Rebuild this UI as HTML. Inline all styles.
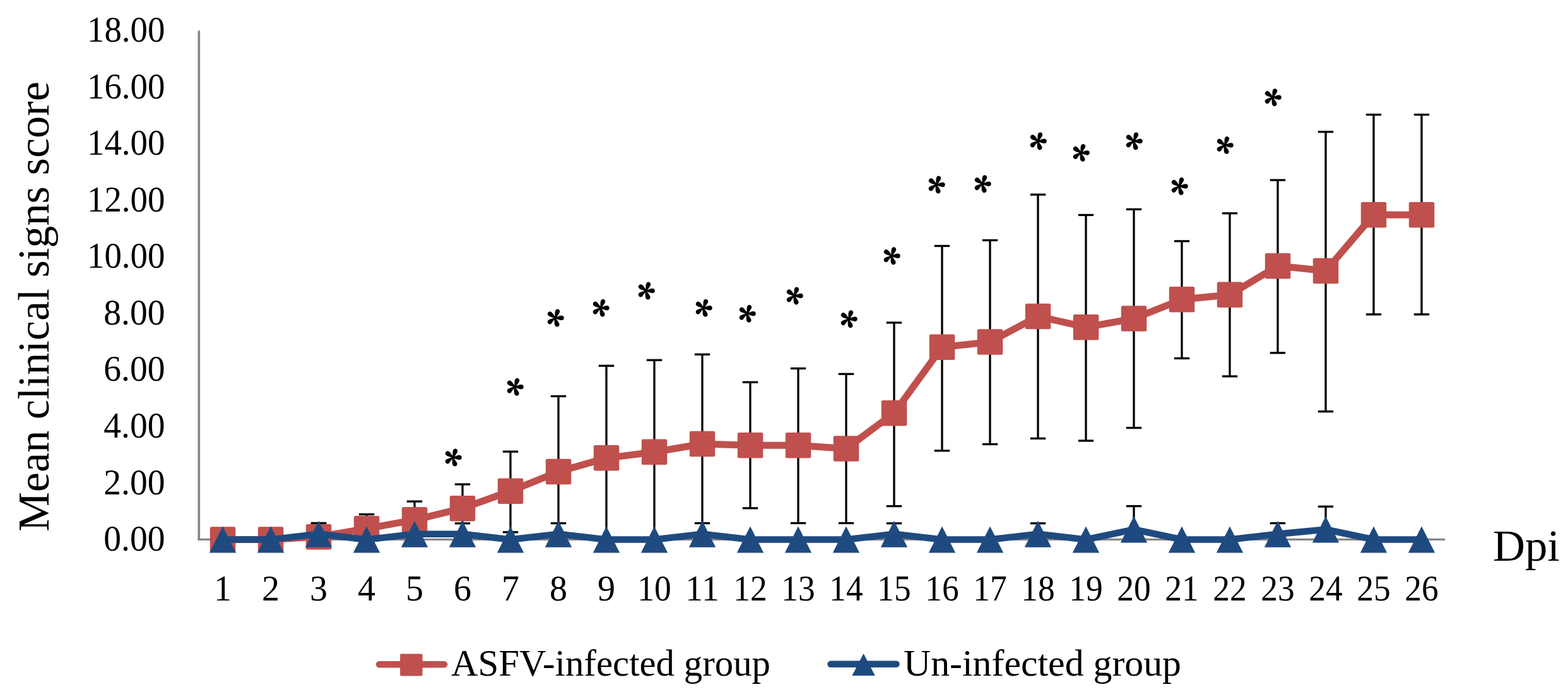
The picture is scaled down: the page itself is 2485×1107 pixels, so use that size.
<!DOCTYPE html><html><head><meta charset="utf-8"><title>Mean clinical signs score</title><style>html,body{margin:0;padding:0;background:#fff;}svg{display:block;}</style></head><body>
<svg width="2485" height="1107" viewBox="0 0 2485 1107">
<rect width="2485" height="1107" fill="#fff"/>
<g font-family="Liberation Serif, serif" font-size="56.5" fill="#000" text-anchor="end">
<text x="261.4" y="872.0" textLength="97.1" lengthAdjust="spacingAndGlyphs">0.00</text>
<text x="261.4" y="782.5" textLength="97.1" lengthAdjust="spacingAndGlyphs">2.00</text>
<text x="261.4" y="692.9" textLength="97.1" lengthAdjust="spacingAndGlyphs">4.00</text>
<text x="261.4" y="603.4" textLength="97.1" lengthAdjust="spacingAndGlyphs">6.00</text>
<text x="261.4" y="513.8" textLength="97.1" lengthAdjust="spacingAndGlyphs">8.00</text>
<text x="261.4" y="424.3" textLength="123.4" lengthAdjust="spacingAndGlyphs">10.00</text>
<text x="261.4" y="334.7" textLength="123.4" lengthAdjust="spacingAndGlyphs">12.00</text>
<text x="261.4" y="245.2" textLength="123.4" lengthAdjust="spacingAndGlyphs">14.00</text>
<text x="261.4" y="155.6" textLength="123.4" lengthAdjust="spacingAndGlyphs">16.00</text>
<text x="261.4" y="66.1" textLength="123.4" lengthAdjust="spacingAndGlyphs">18.00</text>
</g>
<line x1="315.3" y1="48.5" x2="315.3" y2="854.4" stroke="#868686" stroke-width="3.6"/>
<line x1="313.3" y1="854.4" x2="2290.2" y2="854.4" stroke="#868686" stroke-width="3.2"/>
<g font-family="Liberation Serif, serif" font-size="56" fill="#000" text-anchor="middle">
<text x="353.0" y="951">1</text>
<text x="429.0" y="951">2</text>
<text x="505.0" y="951">3</text>
<text x="581.0" y="951">4</text>
<text x="657.0" y="951">5</text>
<text x="733.0" y="951">6</text>
<text x="809.0" y="951">7</text>
<text x="885.0" y="951">8</text>
<text x="961.0" y="951">9</text>
<text x="1037.0" y="951" textLength="53.5" lengthAdjust="spacingAndGlyphs">10</text>
<text x="1113.0" y="951" textLength="53.5" lengthAdjust="spacingAndGlyphs">11</text>
<text x="1189.0" y="951" textLength="53.5" lengthAdjust="spacingAndGlyphs">12</text>
<text x="1265.0" y="951" textLength="53.5" lengthAdjust="spacingAndGlyphs">13</text>
<text x="1341.0" y="951" textLength="53.5" lengthAdjust="spacingAndGlyphs">14</text>
<text x="1417.0" y="951" textLength="53.5" lengthAdjust="spacingAndGlyphs">15</text>
<text x="1493.0" y="951" textLength="53.5" lengthAdjust="spacingAndGlyphs">16</text>
<text x="1569.0" y="951" textLength="53.5" lengthAdjust="spacingAndGlyphs">17</text>
<text x="1645.0" y="951" textLength="53.5" lengthAdjust="spacingAndGlyphs">18</text>
<text x="1721.0" y="951" textLength="53.5" lengthAdjust="spacingAndGlyphs">19</text>
<text x="1797.0" y="951" textLength="53.5" lengthAdjust="spacingAndGlyphs">20</text>
<text x="1873.0" y="951" textLength="53.5" lengthAdjust="spacingAndGlyphs">21</text>
<text x="1949.0" y="951" textLength="53.5" lengthAdjust="spacingAndGlyphs">22</text>
<text x="2025.0" y="951" textLength="53.5" lengthAdjust="spacingAndGlyphs">23</text>
<text x="2101.0" y="951" textLength="53.5" lengthAdjust="spacingAndGlyphs">24</text>
<text x="2177.0" y="951" textLength="53.5" lengthAdjust="spacingAndGlyphs">25</text>
<text x="2253.0" y="951" textLength="53.5" lengthAdjust="spacingAndGlyphs">26</text>
</g>
<g stroke="#000" stroke-width="3.3" fill="none">
<line x1="505.0" y1="828.5" x2="505.0" y2="850.1"/><line x1="492.8" y1="828.5" x2="517.2" y2="828.5"/>
<line x1="581.0" y1="814.6" x2="581.0" y2="837.2"/><line x1="568.8" y1="814.6" x2="593.2" y2="814.6"/>
<line x1="657.0" y1="794.1" x2="657.0" y2="823.3"/><line x1="644.8" y1="794.1" x2="669.2" y2="794.1"/>
<line x1="733.0" y1="767.0" x2="733.0" y2="845.0"/><line x1="720.8" y1="767.0" x2="745.2" y2="767.0"/>
<line x1="809.0" y1="715.2" x2="809.0" y2="842.8"/><line x1="796.8" y1="715.2" x2="821.2" y2="715.2"/><line x1="796.8" y1="842.8" x2="821.2" y2="842.8"/>
<line x1="885.0" y1="627.5" x2="885.0" y2="850.0"/><line x1="872.8" y1="627.5" x2="897.2" y2="627.5"/>
<line x1="961.0" y1="579.3" x2="961.0" y2="850.0"/><line x1="948.8" y1="579.3" x2="973.2" y2="579.3"/>
<line x1="1037.0" y1="570.3" x2="1037.0" y2="850.0"/><line x1="1024.8" y1="570.3" x2="1049.2" y2="570.3"/>
<line x1="1113.0" y1="561.3" x2="1113.0" y2="850.0"/><line x1="1100.8" y1="561.3" x2="1125.2" y2="561.3"/>
<line x1="1189.0" y1="605.3" x2="1189.0" y2="804.8"/><line x1="1176.8" y1="605.3" x2="1201.2" y2="605.3"/><line x1="1176.8" y1="804.8" x2="1201.2" y2="804.8"/>
<line x1="1265.0" y1="583.5" x2="1265.0" y2="828.5"/><line x1="1252.8" y1="583.5" x2="1277.2" y2="583.5"/><line x1="1252.8" y1="828.5" x2="1277.2" y2="828.5"/>
<line x1="1341.0" y1="592.3" x2="1341.0" y2="828.5"/><line x1="1328.8" y1="592.3" x2="1353.2" y2="592.3"/><line x1="1328.8" y1="828.5" x2="1353.2" y2="828.5"/>
<line x1="1417.0" y1="511.0" x2="1417.0" y2="801.6"/><line x1="1404.8" y1="511.0" x2="1429.2" y2="511.0"/><line x1="1404.8" y1="801.6" x2="1429.2" y2="801.6"/>
<line x1="1493.0" y1="389.5" x2="1493.0" y2="713.8"/><line x1="1480.8" y1="389.5" x2="1505.2" y2="389.5"/><line x1="1480.8" y1="713.8" x2="1505.2" y2="713.8"/>
<line x1="1569.0" y1="380.5" x2="1569.0" y2="703.5"/><line x1="1556.8" y1="380.5" x2="1581.2" y2="380.5"/><line x1="1556.8" y1="703.5" x2="1581.2" y2="703.5"/>
<line x1="1645.0" y1="308.2" x2="1645.0" y2="694.4"/><line x1="1632.8" y1="308.2" x2="1657.2" y2="308.2"/><line x1="1632.8" y1="694.4" x2="1657.2" y2="694.4"/>
<line x1="1721.0" y1="340.5" x2="1721.0" y2="698.0"/><line x1="1708.8" y1="340.5" x2="1733.2" y2="340.5"/><line x1="1708.8" y1="698.0" x2="1733.2" y2="698.0"/>
<line x1="1797.0" y1="331.5" x2="1797.0" y2="677.6"/><line x1="1784.8" y1="331.5" x2="1809.2" y2="331.5"/><line x1="1784.8" y1="677.6" x2="1809.2" y2="677.6"/>
<line x1="1873.0" y1="381.9" x2="1873.0" y2="567.5"/><line x1="1860.8" y1="381.9" x2="1885.2" y2="381.9"/><line x1="1860.8" y1="567.5" x2="1885.2" y2="567.5"/>
<line x1="1949.0" y1="337.8" x2="1949.0" y2="596.0"/><line x1="1936.8" y1="337.8" x2="1961.2" y2="337.8"/><line x1="1936.8" y1="596.0" x2="1961.2" y2="596.0"/>
<line x1="2025.0" y1="285.2" x2="2025.0" y2="558.9"/><line x1="2012.8" y1="285.2" x2="2037.2" y2="285.2"/><line x1="2012.8" y1="558.9" x2="2037.2" y2="558.9"/>
<line x1="2101.0" y1="208.8" x2="2101.0" y2="651.7"/><line x1="2088.8" y1="208.8" x2="2113.2" y2="208.8"/><line x1="2088.8" y1="651.7" x2="2113.2" y2="651.7"/>
<line x1="2177.0" y1="181.6" x2="2177.0" y2="497.9"/><line x1="2164.8" y1="181.6" x2="2189.2" y2="181.6"/><line x1="2164.8" y1="497.9" x2="2189.2" y2="497.9"/>
<line x1="2253.0" y1="181.6" x2="2253.0" y2="497.9"/><line x1="2240.8" y1="181.6" x2="2265.2" y2="181.6"/><line x1="2240.8" y1="497.9" x2="2265.2" y2="497.9"/>
<line x1="505.0" y1="828.6" x2="505.0" y2="845.8"/><line x1="492.8" y1="828.6" x2="517.2" y2="828.6"/>
<line x1="657.0" y1="828.6" x2="657.0" y2="845.8"/><line x1="644.8" y1="828.6" x2="669.2" y2="828.6"/>
<line x1="733.0" y1="828.9" x2="733.0" y2="845.8"/><line x1="720.8" y1="828.9" x2="745.2" y2="828.9"/>
<line x1="885.0" y1="828.7" x2="885.0" y2="845.8"/><line x1="872.8" y1="828.7" x2="897.2" y2="828.7"/>
<line x1="1113.0" y1="828.6" x2="1113.0" y2="845.8"/><line x1="1100.8" y1="828.6" x2="1125.2" y2="828.6"/>
<line x1="1417.0" y1="828.8" x2="1417.0" y2="845.8"/><line x1="1404.8" y1="828.8" x2="1429.2" y2="828.8"/>
<line x1="1645.0" y1="828.8" x2="1645.0" y2="845.8"/><line x1="1632.8" y1="828.8" x2="1657.2" y2="828.8"/>
<line x1="1797.0" y1="801.6" x2="1797.0" y2="838.5"/><line x1="1784.8" y1="801.6" x2="1809.2" y2="801.6"/>
<line x1="2025.0" y1="828.6" x2="2025.0" y2="845.8"/><line x1="2012.8" y1="828.6" x2="2037.2" y2="828.6"/>
<line x1="2101.0" y1="802.2" x2="2101.0" y2="838.5"/><line x1="2088.8" y1="802.2" x2="2113.2" y2="802.2"/>
</g>
<polyline points="353.0,854.5 429.0,854.5 505.0,850.1 581.0,837.2 657.0,823.3 733.0,805.1 809.0,777.8 885.0,747.0 961.0,725.4 1037.0,715.8 1113.0,703.0 1189.0,705.3 1265.0,705.3 1341.0,710.5 1417.0,654.2 1493.0,549.8 1569.0,541.5 1645.0,501.0 1721.0,518.2 1797.0,504.5 1873.0,474.3 1949.0,466.7 2025.0,421.1 2101.0,429.0 2177.0,340.2 2253.0,340.2" fill="none" stroke="#C0504D" stroke-width="11" stroke-linejoin="round" stroke-linecap="round"/>
<g fill="#C0504D">
<rect x="332.8" y="834.2" width="40.5" height="40.5" rx="2.5"/>
<rect x="408.8" y="834.2" width="40.5" height="40.5" rx="2.5"/>
<rect x="484.8" y="829.9" width="40.5" height="40.5" rx="2.5"/>
<rect x="560.8" y="817.0" width="40.5" height="40.5" rx="2.5"/>
<rect x="636.8" y="803.0" width="40.5" height="40.5" rx="2.5"/>
<rect x="712.8" y="784.9" width="40.5" height="40.5" rx="2.5"/>
<rect x="788.8" y="757.5" width="40.5" height="40.5" rx="2.5"/>
<rect x="864.8" y="726.8" width="40.5" height="40.5" rx="2.5"/>
<rect x="940.8" y="705.1" width="40.5" height="40.5" rx="2.5"/>
<rect x="1016.8" y="695.5" width="40.5" height="40.5" rx="2.5"/>
<rect x="1092.8" y="682.8" width="40.5" height="40.5" rx="2.5"/>
<rect x="1168.8" y="685.0" width="40.5" height="40.5" rx="2.5"/>
<rect x="1244.8" y="685.0" width="40.5" height="40.5" rx="2.5"/>
<rect x="1320.8" y="690.2" width="40.5" height="40.5" rx="2.5"/>
<rect x="1396.8" y="634.0" width="40.5" height="40.5" rx="2.5"/>
<rect x="1472.8" y="529.5" width="40.5" height="40.5" rx="2.5"/>
<rect x="1548.8" y="521.2" width="40.5" height="40.5" rx="2.5"/>
<rect x="1624.8" y="480.8" width="40.5" height="40.5" rx="2.5"/>
<rect x="1700.8" y="498.0" width="40.5" height="40.5" rx="2.5"/>
<rect x="1776.8" y="484.2" width="40.5" height="40.5" rx="2.5"/>
<rect x="1852.8" y="454.1" width="40.5" height="40.5" rx="2.5"/>
<rect x="1928.8" y="446.4" width="40.5" height="40.5" rx="2.5"/>
<rect x="2004.8" y="400.9" width="40.5" height="40.5" rx="2.5"/>
<rect x="2080.8" y="408.8" width="40.5" height="40.5" rx="2.5"/>
<rect x="2156.8" y="319.9" width="40.5" height="40.5" rx="2.5"/>
<rect x="2232.8" y="319.9" width="40.5" height="40.5" rx="2.5"/>
</g>
<polyline points="353.0,854.5 429.0,854.5 505.0,845.8 581.0,854.5 657.0,845.8 733.0,845.8 809.0,854.5 885.0,845.8 961.0,854.5 1037.0,854.5 1113.0,845.8 1189.0,854.5 1265.0,854.5 1341.0,854.5 1417.0,845.8 1493.0,854.5 1569.0,854.5 1645.0,845.8 1721.0,854.5 1797.0,838.5 1873.0,854.5 1949.0,854.5 2025.0,845.8 2101.0,838.5 2177.0,854.5 2253.0,854.5" fill="none" stroke="#1F4A80" stroke-width="10.5" stroke-linejoin="round" stroke-linecap="round"/>
<g fill="#1F4A80">
<path d="M353.0,833.5 L374.2,875.5 L331.8,875.5 Z"/>
<path d="M429.0,833.5 L450.2,875.5 L407.8,875.5 Z"/>
<path d="M505.0,824.8 L526.2,866.8 L483.8,866.8 Z"/>
<path d="M581.0,833.5 L602.2,875.5 L559.8,875.5 Z"/>
<path d="M657.0,824.8 L678.2,866.8 L635.8,866.8 Z"/>
<path d="M733.0,824.8 L754.2,866.8 L711.8,866.8 Z"/>
<path d="M809.0,833.5 L830.2,875.5 L787.8,875.5 Z"/>
<path d="M885.0,824.8 L906.2,866.8 L863.8,866.8 Z"/>
<path d="M961.0,833.5 L982.2,875.5 L939.8,875.5 Z"/>
<path d="M1037.0,833.5 L1058.2,875.5 L1015.8,875.5 Z"/>
<path d="M1113.0,824.8 L1134.2,866.8 L1091.8,866.8 Z"/>
<path d="M1189.0,833.5 L1210.2,875.5 L1167.8,875.5 Z"/>
<path d="M1265.0,833.5 L1286.2,875.5 L1243.8,875.5 Z"/>
<path d="M1341.0,833.5 L1362.2,875.5 L1319.8,875.5 Z"/>
<path d="M1417.0,824.8 L1438.2,866.8 L1395.8,866.8 Z"/>
<path d="M1493.0,833.5 L1514.2,875.5 L1471.8,875.5 Z"/>
<path d="M1569.0,833.5 L1590.2,875.5 L1547.8,875.5 Z"/>
<path d="M1645.0,824.8 L1666.2,866.8 L1623.8,866.8 Z"/>
<path d="M1721.0,833.5 L1742.2,875.5 L1699.8,875.5 Z"/>
<path d="M1797.0,817.5 L1818.2,859.5 L1775.8,859.5 Z"/>
<path d="M1873.0,833.5 L1894.2,875.5 L1851.8,875.5 Z"/>
<path d="M1949.0,833.5 L1970.2,875.5 L1927.8,875.5 Z"/>
<path d="M2025.0,824.8 L2046.2,866.8 L2003.8,866.8 Z"/>
<path d="M2101.0,817.5 L2122.2,859.5 L2079.8,859.5 Z"/>
<path d="M2177.0,833.5 L2198.2,875.5 L2155.8,875.5 Z"/>
<path d="M2253.0,833.5 L2274.2,875.5 L2231.8,875.5 Z"/>
</g>
<g font-family="Noto Serif CJK SC, serif" font-size="58" font-weight="900" fill="#000" stroke="#000" stroke-width="1.2" stroke-linejoin="miter" text-anchor="middle">
<text transform="translate(718.8,724.4) rotate(90)" x="0" y="35.6">*</text>
<text transform="translate(816.2,612.6) rotate(90)" x="0" y="35.6">*</text>
<text transform="translate(880.9,503.5) rotate(90)" x="0" y="35.6">*</text>
<text transform="translate(952.6,487.6) rotate(90)" x="0" y="35.6">*</text>
<text transform="translate(1024.6,460.5) rotate(90)" x="0" y="35.6">*</text>
<text transform="translate(1115.6,487.6) rotate(90)" x="0" y="35.6">*</text>
<text transform="translate(1185.1,496.7) rotate(90)" x="0" y="35.6">*</text>
<text transform="translate(1260.0,468.5) rotate(90)" x="0" y="35.6">*</text>
<text transform="translate(1345.7,505.2) rotate(90)" x="0" y="35.6">*</text>
<text transform="translate(1413.9,405.3) rotate(90)" x="0" y="35.6">*</text>
<text transform="translate(1485.0,292.4) rotate(90)" x="0" y="35.6">*</text>
<text transform="translate(1557.2,291.3) rotate(90)" x="0" y="35.6">*</text>
<text transform="translate(1645.9,223.5) rotate(90)" x="0" y="35.6">*</text>
<text transform="translate(1713.3,242.0) rotate(90)" x="0" y="35.6">*</text>
<text transform="translate(1798.1,223.5) rotate(90)" x="0" y="35.6">*</text>
<text transform="translate(1869.9,295.0) rotate(90)" x="0" y="35.6">*</text>
<text transform="translate(1942.1,230.0) rotate(90)" x="0" y="35.6">*</text>
<text transform="translate(2017.4,154.1) rotate(90)" x="0" y="35.6">*</text>
</g>
<text transform="translate(76.8,841.8) rotate(-90)" x="0" y="0" font-family="Liberation Serif, serif" font-size="69" textLength="712.7" lengthAdjust="spacingAndGlyphs">Mean clinical signs score</text>
<text x="2366" y="888.4" font-family="Liberation Serif, serif" font-size="69.5" textLength="106" lengthAdjust="spacingAndGlyphs">Dpi</text>
<line x1="601" y1="1052.3" x2="704" y2="1052.3" stroke="#C0504D" stroke-width="10.5" stroke-linecap="round"/>
<rect x="634.1" y="1035.4" width="35.5" height="35.2" rx="2" fill="#C0504D"/>
<text x="715" y="1069.7" font-family="Liberation Serif, serif" font-size="59.4" textLength="506" lengthAdjust="spacingAndGlyphs">ASFV-infected group</text>
<line x1="1316.5" y1="1051.8" x2="1420.5" y2="1051.8" stroke="#1F4A80" stroke-width="10.5" stroke-linecap="round"/>
<path d="M1368.6,1035 L1386.8,1069.9 L1350.4,1069.9 Z" fill="#1F4A80"/>
<text x="1432" y="1069.9" font-family="Liberation Serif, serif" font-size="58.4" textLength="440" lengthAdjust="spacingAndGlyphs">Un-infected group</text>
</svg></body></html>
